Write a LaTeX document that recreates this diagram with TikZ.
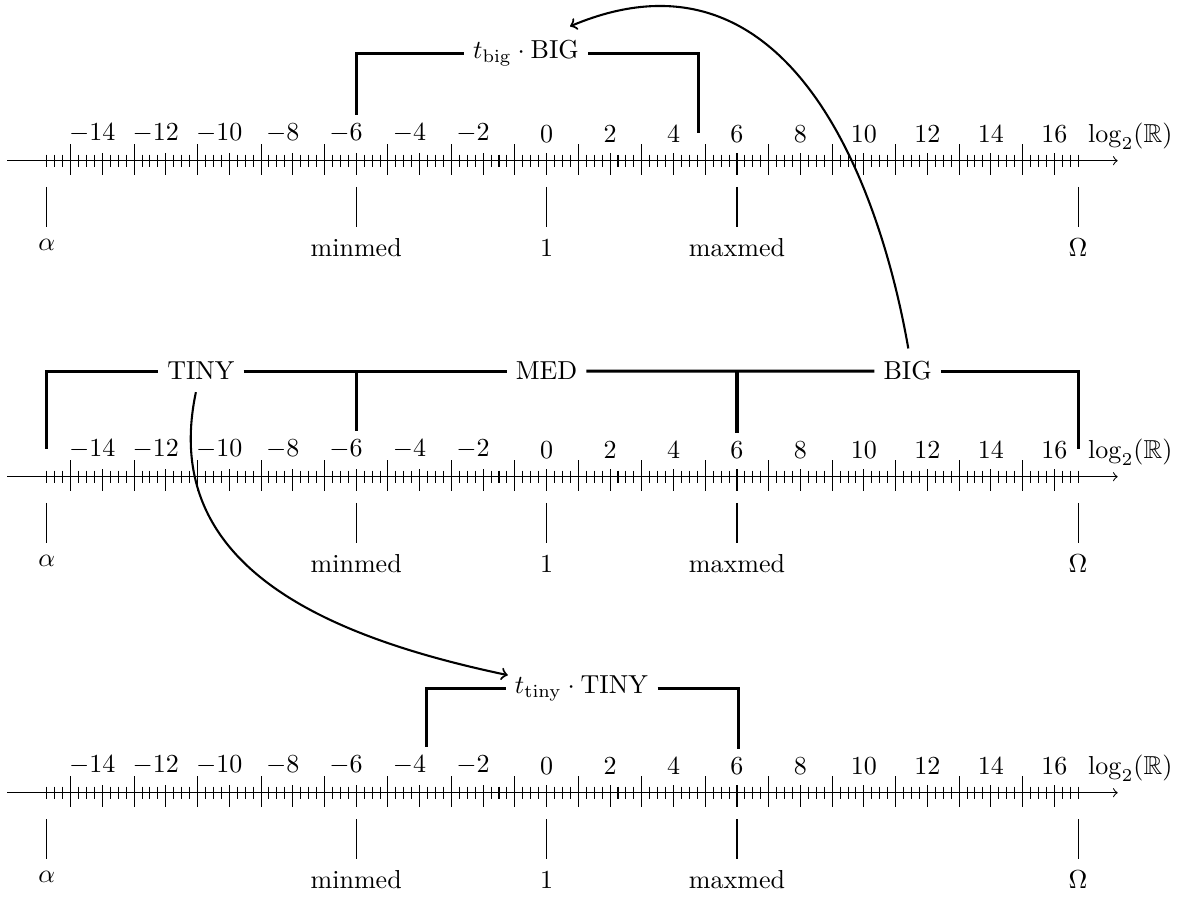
\documentclass[tikz,border=0pt]{standalone}
\usepackage{amssymb}
\usetikzlibrary{calc}
\tikzset{
  axisline/.style={->, line width=0.4pt},
  tickline/.style={line width=0.4pt},
  brack/.style={line width=1.2pt},
  numlab/.style={fill=white, inner sep=3.33pt, anchor=south},
  belowlab/.style={anchor=north, inner sep=3.33pt},
  brlab/.style={anchor=base, inner sep=3.33pt},
  curvearrow/.style={->, line width=0.8pt},
}
\newcommand\rowaxis[2]{%
\begin{scope}[shift={(0,#2)}]
  \foreach \v in {-14,-12,...,-2} {
    \pgfmathtruncatemacro\absv{-\v}
    \node[numlab] (#1n\absv m) at ({546.6+31.73*\v},-8.7) {$\llap{$-$}\absv$};
  }
  \foreach \v in {0,2,...,16} {
    \node[numlab] (#1n\v p) at ({546.6+31.73*\v},-8.7) {$\v$};
  }
  \node[anchor=base west, inner sep=3.33pt, fill=white] (#1lg) at (1079,-18) {$\log_2(\mathbb{R})$};
  \coordinate (#1s) at (7.2,0);
  \coordinate (#1e) at (1117.7,0);
  \draw[axisline] (#1s) -- (#1e);
  \foreach \k in {-16,...,16} {
    \foreach \f in {0.25,0.5,0.75} {
      \draw[tickline] ({546.6+31.73*(\k+\f)},-6) -- ({546.6+31.73*(\k+\f)},6);
    }
  }
  \foreach \v in {-14,-12,...,16} {
    \draw[tickline] ({546.6+31.73*\v},-7.5) -- ({546.6+31.73*\v},14.5);
  }
  \foreach \v in {-15,-13,...,15} {
    \draw[tickline] ({546.6+31.73*\v},-16.5) -- ({546.6+31.73*\v},14.5);
  }
  \foreach \v/\t/\n in {-15.75/$\alpha$/al, -6/minmed/mi, 0/1/one, 6/maxmed/ma, 16.75/$\Omega$/om} {
    \draw[tickline] ({546.6+31.73*\v},26.3) -- ({546.6+31.73*\v},66);
    \node[belowlab] (#1\n) at ({546.6+31.73*\v},69) {\t};
  }
\end{scope}}
\begin{document}
\begin{tikzpicture}[x=0.384615pt, y=-0.384615pt]
\useasboundingbox (0,0) rectangle (1180,901);

% ---- top row ----
\node[brlab] (tbig) at (526,58.3) {$t_{\mathrm{big}}\cdot\mathrm{BIG}$};
\coordinate (tbL) at (356.2,132.7);
\coordinate (tbR) at (698.9,132.7);
\draw[brack] (tbL) |- (tbig.west);
\draw[brack] (tbig.east) -| (tbR);
\rowaxis{a}{160.7}

% ---- middle row ----
\node[brlab] (tiny) at (200.9,380) {TINY};
\node[brlab] (med) at (546.6,380) {MED};
\node[brlab] (big) at (907.6,380) {BIG};
\coordinate (mA) at (46.9,448.7);
\coordinate (mB) at (1078.1,448.7);
\coordinate (mm1) at (356.2,448.7);
\coordinate (mm2) at (737,448.7);
\draw[brack] (mA) |- (tiny.west);
\draw[brack] (tiny.east) -- (med.west);
\draw[brack] (med.east) -- (big.west);
\draw[brack] (big.east) -| (mB);
\draw[brack] (mm1) -- (mm1 |- tiny.east);
\draw[brack] (mm2) -- (mm2 |- big.west);
\rowaxis{b}{476.7}

% ---- bottom row ----
\node[brlab] (ttiny) at (581.7,693.3) {$t_{\mathrm{tiny}}\cdot\mathrm{TINY}$};
\coordinate (bL) at (426.7,764.7);
\coordinate (bR) at (738.3,764.7);
\draw[brack] (bL) |- (ttiny.west);
\draw[brack] (ttiny.east) -| (bR);
\rowaxis{c}{792.7}

% ---- curved arrows ----
\draw[curvearrow] ($(big.north)+(0.7,-4)$) .. controls +(-26,-150) and +(225,-95) .. ($(tbig.north)+(44,-5)$);
\draw[curvearrow] ($(tiny.south)+(-5,3)$) .. controls +(-36,170) and +(-190,-40) .. ($(ttiny.west)+(2,-13)$);
\end{tikzpicture}
\end{document}
